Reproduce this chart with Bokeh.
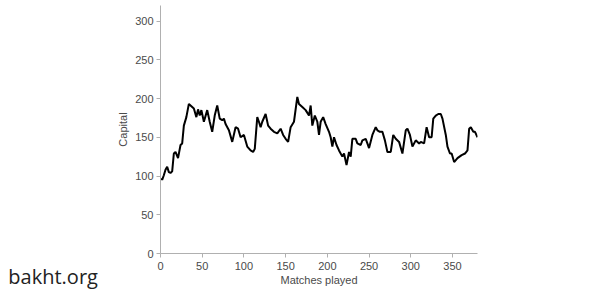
from bokeh.plotting import figure
from bokeh.models import Range1d, FixedTicker, Label, ColumnDataSource
from bokeh.embed import file_html
from bokeh.resources import INLINE

matches = [1, 2, 4, 6, 8, 10, 12, 14, 16, 18, 21, 24, 26, 28, 31, 34, 37, 40, 43, 45,
           47, 49, 52, 56, 59, 62, 65, 68, 71, 74, 76, 78, 82, 86, 90, 93, 96, 100, 104, 108,
           111, 113, 116, 118, 120, 122, 126, 129, 132, 136, 140, 144, 147, 150, 153, 156, 160, 164, 166, 170,
           174, 178, 180, 182, 185, 188, 190, 192, 195, 198, 202, 204, 206, 208, 211, 214, 218, 220, 223, 226,
           228, 230, 234, 236, 240, 242, 246, 248, 250, 254, 258, 260, 263, 266, 269, 272, 276, 279, 282, 286,
           290, 294, 296, 299, 302, 306, 310, 312, 316, 319, 322, 325, 327, 330, 333, 336, 338, 342, 344, 347,
           349, 352, 356, 361, 365, 368, 370, 372, 375, 377, 380]
capital = [97, 95, 101, 108, 112, 105, 104, 106, 129, 131, 123, 140, 142, 165, 176, 193, 190, 187, 176, 186,
           178, 185, 170, 185, 170, 157, 178, 191, 174, 172, 174, 167, 159, 144, 163, 161, 150, 153, 138, 133,
           131, 135, 176, 170, 163, 170, 180, 165, 161, 157, 155, 161, 153, 148, 144, 163, 170, 202, 193, 189,
           185, 178, 191, 165, 178, 170, 153, 170, 176, 167, 157, 150, 138, 150, 140, 133, 125, 129, 114, 131,
           125, 148, 148, 142, 140, 146, 148, 142, 136, 153, 163, 159, 157, 157, 146, 131, 131, 153, 148, 144,
           129, 159, 161, 153, 138, 146, 142, 144, 142, 163, 150, 150, 174, 178, 180, 180, 174, 153, 138, 129,
           129, 118, 123, 127, 129, 133, 161, 163, 157, 157, 150]

x_ticks = [0, 50, 100, 150, 200, 250, 300, 350]
y_ticks = [0, 50, 100, 150, 200, 250, 300]
watermark = "bakht.org"

p = figure(width=602, height=295, output_backend="svg", toolbar_location=None,
           x_range=Range1d(0, 380), y_range=Range1d(0, 320),
           min_border_left=160, min_border_right=125, min_border_top=5, min_border_bottom=42)

src = ColumnDataSource(data=dict(x=matches, y=capital))
p.line("x", "y", source=src, line_color="black", line_width=2)

p.grid.visible = False
p.outline_line_color = None
p.background_fill_color = "white"
p.border_fill_color = "white"

p.xaxis.ticker = FixedTicker(ticks=x_ticks)
p.yaxis.ticker = FixedTicker(ticks=y_ticks)

for ax in (p.xaxis[0], p.yaxis[0]):
    ax.axis_line_color = "#b0b0b0"
    ax.major_tick_line_color = "#b0b0b0"
    ax.major_tick_out = 4
    ax.major_tick_in = 0
    ax.minor_tick_line_color = None
    ax.major_label_text_color = "#4a4a4a"
    ax.major_label_text_font = "Liberation Sans"
    ax.major_label_text_font_size = "11px"
    ax.axis_label_text_color = "#4a4a4a"
    ax.axis_label_text_font = "Liberation Sans"
    ax.axis_label_text_font_size = "11px"
    ax.axis_label_text_font_style = "normal"

p.xaxis.axis_label = "Matches played"
p.yaxis.axis_label = "Capital"
p.xaxis.major_label_standoff = 4
p.xaxis.axis_label_standoff = 1
p.yaxis.major_label_standoff = 3
p.yaxis.axis_label_standoff = 3

# watermark placed in a side panel so it is not clipped to the plot frame
wm = Label(x=-182.4, y=-29.6, x_units="data", y_units="data", text=watermark,
           text_font="Open Sans", text_font_size="20px", text_color="#222222",
           text_baseline="alphabetic", text_align="left")
p.add_layout(wm, "left")

open("out.html", "w").write(file_html(p, INLINE))
